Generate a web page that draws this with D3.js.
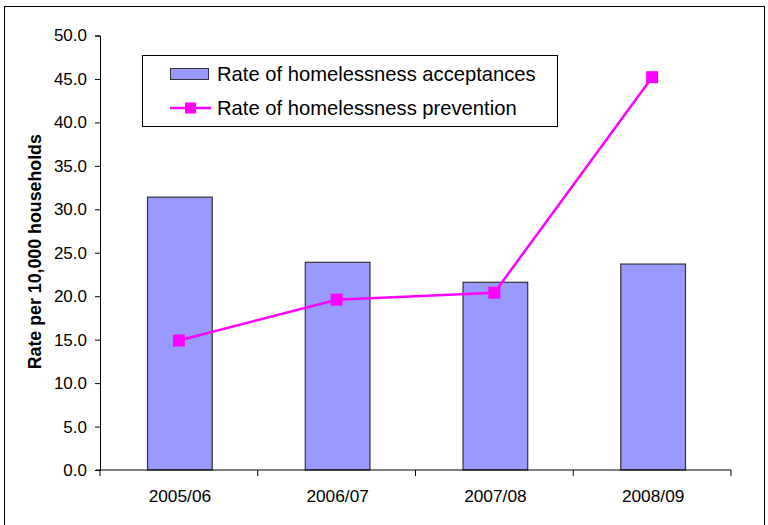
<!DOCTYPE html>
<html>
<head>
<meta charset="utf-8">
<script src="https://cdn.jsdelivr.net/npm/d3@7/dist/d3.min.js"></script>
<style>
  html, body { margin: 0; padding: 0; background: #fff; }
  svg { display: block; font-family: "Liberation Sans", Arial, sans-serif; }
</style>
</head>
<body>
<svg id="chart" width="768" height="525"></svg>
<script>
// Homelessness rates per 10,000 households
const categories = ["2005/06", "2006/07", "2007/08", "2008/09"];
const acceptances = [31.4, 23.9, 21.6, 23.7];
const prevention = [14.9, 19.6, 20.4, 45.2];
const yTicks = [0, 5, 10, 15, 20, 25, 30, 35, 40, 45, 50];
const seriesNames = ["Rate of homelessness acceptances", "Rate of homelessness prevention"];

const svg = d3.select("#chart");
const plot = { left: 100, right: 731, top: 35.5, bottom: 470 };

// outer frame
svg.append("rect")
  .attr("x", 4.5).attr("y", 6.5)
  .attr("width", 760).attr("height", 530)
  .attr("fill", "none").attr("stroke", "#000").attr("stroke-width", 1);

const x = d3.scaleBand().domain(categories).range([plot.left, plot.right]).padding(0);
const y = d3.scaleLinear().domain([0, 50]).range([plot.bottom, plot.top]);

// bars
const barW = x.bandwidth() * 0.41;
svg.append("g").selectAll("rect")
  .data(categories)
  .join("rect")
  .attr("x", (d) => x(d) + (x.bandwidth() - barW) / 2 + 1)
  .attr("y", (d, i) => y(acceptances[i]))
  .attr("width", barW)
  .attr("height", (d, i) => y(0) - y(acceptances[i]))
  .attr("fill", "#9999FF")
  .attr("stroke", "#333")
  .attr("stroke-width", 1.2);

// y axis
const yAxis = svg.append("g")
  .attr("transform", `translate(${plot.left},0)`)
  .call(d3.axisLeft(y).tickValues(yTicks).tickFormat(d3.format(".1f")).tickSize(5).tickPadding(8));
yAxis.select(".domain").attr("stroke", "#000");
yAxis.selectAll(".tick line").attr("stroke", "#000");
yAxis.selectAll(".tick text").attr("font-size", 17).attr("fill", "#000")
  .attr("font-family", "Liberation Sans, Arial, sans-serif");

// x axis: ticks at category boundaries
const xAxis = svg.append("g")
  .attr("transform", `translate(0,${plot.bottom})`);
xAxis.append("line")
  .attr("x1", plot.left - 4).attr("x2", plot.right)
  .attr("stroke", "#000");
const bounds = categories.map((c) => x(c)).concat([plot.right]);
xAxis.selectAll("line.tk")
  .data(bounds)
  .join("line")
  .attr("class", "tk")
  .attr("x1", (d) => d).attr("x2", (d) => d)
  .attr("y1", 0).attr("y2", 6)
  .attr("stroke", "#000");
xAxis.selectAll("text")
  .data(categories)
  .join("text")
  .attr("x", (d) => x(d) + x.bandwidth() / 2 + 1)
  .attr("y", 32)
  .attr("text-anchor", "middle")
  .attr("font-size", 17.3)
  .attr("fill", "#000")
  .text((d) => d);

// y axis title
svg.append("text")
  .attr("transform", `translate(41,${(plot.top + plot.bottom) / 2 - 1}) rotate(-90)`)
  .attr("text-anchor", "middle")
  .attr("font-size", 17.8)
  .attr("font-weight", "bold")
  .attr("fill", "#000")
  .text("Rate per 10,000 households");

// prevention line with square markers
const line = d3.line()
  .x((d, i) => x(categories[i]) + x.bandwidth() / 2)
  .y((d) => y(d));
svg.append("path")
  .datum(prevention)
  .attr("d", line)
  .attr("fill", "none")
  .attr("stroke", "#FF00FF")
  .attr("stroke-width", 2.5);
const mk = 12;
svg.append("g").selectAll("rect")
  .data(prevention)
  .join("rect")
  .attr("x", (d, i) => x(categories[i]) + x.bandwidth() / 2 - mk / 2)
  .attr("y", (d) => y(d) - mk / 2)
  .attr("width", mk).attr("height", mk)
  .attr("fill", "#FF00FF");

// legend
const lg = svg.append("g");
lg.append("rect")
  .attr("x", 142.5).attr("y", 55.5)
  .attr("width", 415).attr("height", 71)
  .attr("fill", "#fff").attr("stroke", "#000");
lg.append("rect")
  .attr("x", 170.5).attr("y", 68.5)
  .attr("width", 38).attr("height", 11)
  .attr("fill", "#9999FF").attr("stroke", "#333");
lg.append("line")
  .attr("x1", 170).attr("x2", 211)
  .attr("y1", 108).attr("y2", 108)
  .attr("stroke", "#FF00FF").attr("stroke-width", 2.5);
lg.append("rect")
  .attr("x", 185).attr("y", 102.5)
  .attr("width", 11).attr("height", 11)
  .attr("fill", "#FF00FF");
lg.selectAll("text")
  .data(seriesNames)
  .join("text")
  .attr("x", 217)
  .attr("y", (d, i) => 81 + i * 34)
  .attr("font-size", 20.2)
  .attr("fill", "#000")
  .text((d) => d);
</script>
</body>
</html>
